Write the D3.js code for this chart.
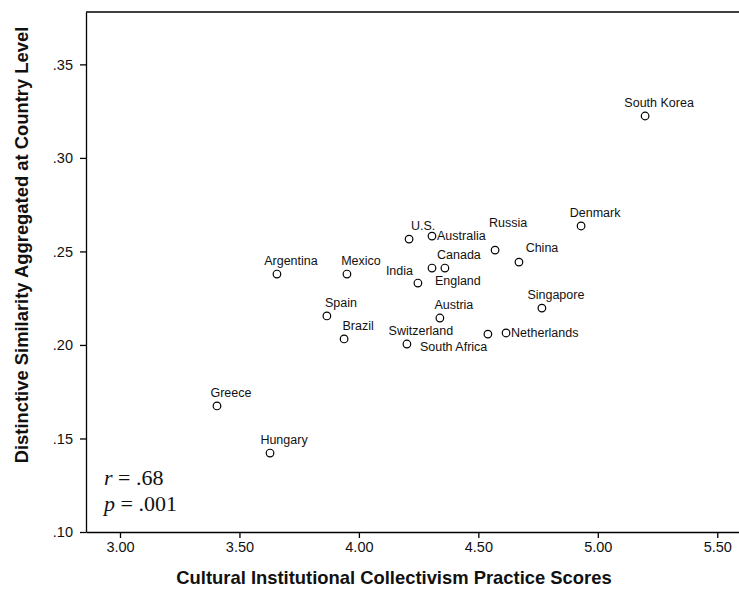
<!DOCTYPE html>
<html lang="en">
<head>
<meta charset="UTF-8">
<title>Distinctive similarity vs institutional collectivism</title>
<script src="https://d3js.org/d3.v7.min.js"></script>
<style>
    body { margin: 0; background: #fff; }
    svg { display: block; font-family: "Liberation Sans", Arial, sans-serif; }
    .tick text { font-size: 14.5px; fill: #111; }
    .tick line, .domain { stroke: #000; stroke-width: 1.3px; }
    .lbl { font-size: 12.5px; fill: #111; }
    .ttl { font-size: 18.4px; font-weight: bold; fill: #111; }
</style>
</head>
<body>
<div id="chart"></div>
<script>
    // values
    const countries = ['South Korea', 'Denmark', 'Russia', 'China', 'U.S.', 'Australia', 'Canada', 'India',
        'England', 'Singapore', 'Austria', 'Switzerland', 'South Africa', 'Netherlands', 'Argentina',
        'Mexico', 'Spain', 'Brazil', 'Greece', 'Hungary']
    const practiceScores = [5.198, 4.930, 4.570, 4.670, 4.210, 4.306, 4.360, 4.306,
        4.247, 4.766, 4.339, 4.201, 4.540, 4.616, 3.657,
        3.950, 3.866, 3.938, 3.406, 3.628]
    const similarity = [0.3224, 0.2636, 0.2507, 0.2443, 0.2566, 0.2582, 0.2411, 0.2411,
        0.2331, 0.2197, 0.2144, 0.2005, 0.2058, 0.2064, 0.2379,
        0.2379, 0.2155, 0.2032, 0.1674, 0.1422]
    const xTicks = [3.00, 3.50, 4.00, 4.50, 5.00, 5.50]
    const yTicks = [0.10, 0.15, 0.20, 0.25, 0.30, 0.35]

    // where a label sits when it is not the usual above-right spot
    const labelPlace = {
        'Russia': ['middle', 13, -27],
        'China': ['middle', 23, -14],
        'Australia': ['start', 5, 0],
        'India': ['end', -19, 3],
        'England': ['start', 17, -2],
        'South Africa': ['start', -68, 13],
        'Netherlands': ['start', 5, 0]
    }

    const W = 739, H = 590
    const m = {left: 86, top: 12}
    const w = 656, h = 520

    const svg = d3.select('#chart').append('svg')
        .attr('width', W)
        .attr('height', H)

    const g = svg.append('g').attr('transform', `translate(${m.left},${m.top})`)

    const x = d3.scaleLinear().domain([2.8577, 5.6036]).range([0, w])
    const y = d3.scaleLinear().domain([0.10, 0.3780]).range([h, 0])

    const xAxis = d3.axisBottom(x).tickValues(xTicks).tickFormat(d3.format('.2f'))
        .tickSize(6).tickSizeOuter(0).tickPadding(4)
    const yAxis = d3.axisLeft(y).tickValues(yTicks).tickFormat(d => d3.format('.2f')(d).replace(/^0/, ''))
        .tickSize(6).tickSizeOuter(0).tickPadding(7)

    g.append('g').attr('transform', `translate(0,${h})`).call(xAxis)
    g.append('g').call(yAxis)

    // top edge of the frame
    g.append('line')
        .attr('x1', 0).attr('x2', w)
        .attr('y1', 0).attr('y2', 0)
        .attr('stroke', '#000').attr('stroke-width', 1.3)

    const pts = countries.map((c, i) => ({name: c, px: practiceScores[i], sim: similarity[i]}))

    g.selectAll('circle')
        .data(pts)
        .enter()
        .append('circle')
        .attr('cx', d => x(d.px))
        .attr('cy', d => y(d.sim))
        .attr('r', 3.8)
        .attr('fill', '#fff')
        .attr('stroke', '#000')
        .attr('stroke-width', 1.2)

    g.selectAll('text.lbl')
        .data(pts)
        .enter()
        .append('text')
        .attr('class', 'lbl')
        .attr('text-anchor', d => (labelPlace[d.name] || ['middle'])[0])
        .attr('x', d => x(d.px) + (labelPlace[d.name] || [0, 14])[1])
        .attr('y', d => y(d.sim) + (labelPlace[d.name] || [0, 0, -13])[2])
        .attr('dy', '0.35em')
        .text(d => d.name)

    // stats in the corner
    const stats = [['r', ' = .68'], ['p', ' = .001']]
    stats.forEach((s, i) => {
        const t = svg.append('text')
            .attr('x', 104)
            .attr('y', 485 + i * 26)
            .style('font-family', '"Liberation Serif", "Times New Roman", serif')
            .style('font-size', '22px')
            .style('fill', '#111')
        t.append('tspan').style('font-style', 'italic').text(s[0])
        t.append('tspan').text(s[1])
    })

    svg.append('text')
        .attr('class', 'ttl')
        .attr('x', 394)
        .attr('y', 584)
        .attr('text-anchor', 'middle')
        .text('Cultural Institutional Collectivism Practice Scores')

    svg.append('text')
        .attr('class', 'ttl')
        .attr('transform', 'translate(28,245) rotate(-90)')
        .attr('text-anchor', 'middle')
        .text('Distinctive Similarity Aggregated at Country Level')
</script>
</body>
</html>
